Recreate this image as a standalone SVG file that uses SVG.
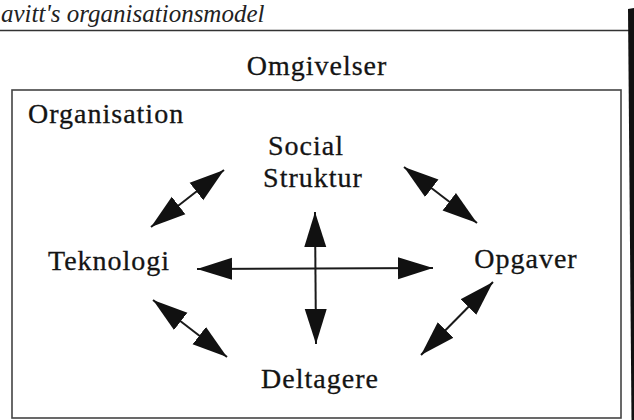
<svg xmlns="http://www.w3.org/2000/svg" width="634" height="420" viewBox="0 0 634 420">
<style>
.lbl{font-family:"Liberation Serif","Times New Roman",serif;font-size:28px;letter-spacing:1px;fill:#141414;stroke:#141414;stroke-width:0.3}
.mid{text-anchor:middle}
.conn line{stroke:#1a1a1a;stroke-width:2}
</style>
<defs>
<marker id="ah" markerUnits="userSpaceOnUse" markerWidth="38" markerHeight="24" refX="35" refY="12" orient="auto-start-reverse">
<path d="M0,1 L35,12 L0,23 Z" fill="#111"/>
</marker>
</defs>
<rect width="634" height="420" fill="#fff"/>
<text x="1" y="22" font-family="Liberation Serif, serif" font-style="italic" font-size="25" fill="#222">avitt's organisationsmodel</text>
<line x1="0" y1="30.5" x2="629" y2="30.5" stroke="#333" stroke-width="1.6"/>
<polygon points="628,9 634,8 634,420 631.5,420" fill="#111"/>
<g id="omgivelser"><text class="lbl mid" x="317" y="75">Omgivelser</text></g>
<g id="organisation">
<rect x="12" y="90" width="609" height="328" fill="none" stroke="#444" stroke-width="1.6"/>
<text class="lbl" x="28" y="123">Organisation</text>
</g>
<g id="social-struktur">
<text class="lbl mid" x="306" y="155">Social</text>
<text class="lbl mid" x="313" y="187">Struktur</text>
</g>
<g id="teknologi"><text class="lbl" x="48" y="270">Teknologi</text></g>
<g id="opgaver"><text class="lbl mid" x="526" y="268">Opgaver</text></g>
<g id="deltagere"><text class="lbl mid" x="320" y="388">Deltagere</text></g>
<g class="conn" id="connectors">
<line x1="197" y1="269" x2="433" y2="268" marker-start="url(#ah)" marker-end="url(#ah)"/>
<line x1="315" y1="212" x2="316" y2="344" marker-start="url(#ah)" marker-end="url(#ah)"/>
<line x1="151" y1="227" x2="224" y2="170" marker-start="url(#ah)" marker-end="url(#ah)"/>
<line x1="404" y1="167" x2="477" y2="223" marker-start="url(#ah)" marker-end="url(#ah)"/>
<line x1="153" y1="300" x2="227" y2="357" marker-start="url(#ah)" marker-end="url(#ah)"/>
<line x1="493" y1="282" x2="421" y2="355" marker-start="url(#ah)" marker-end="url(#ah)"/>
</g>
</svg>
